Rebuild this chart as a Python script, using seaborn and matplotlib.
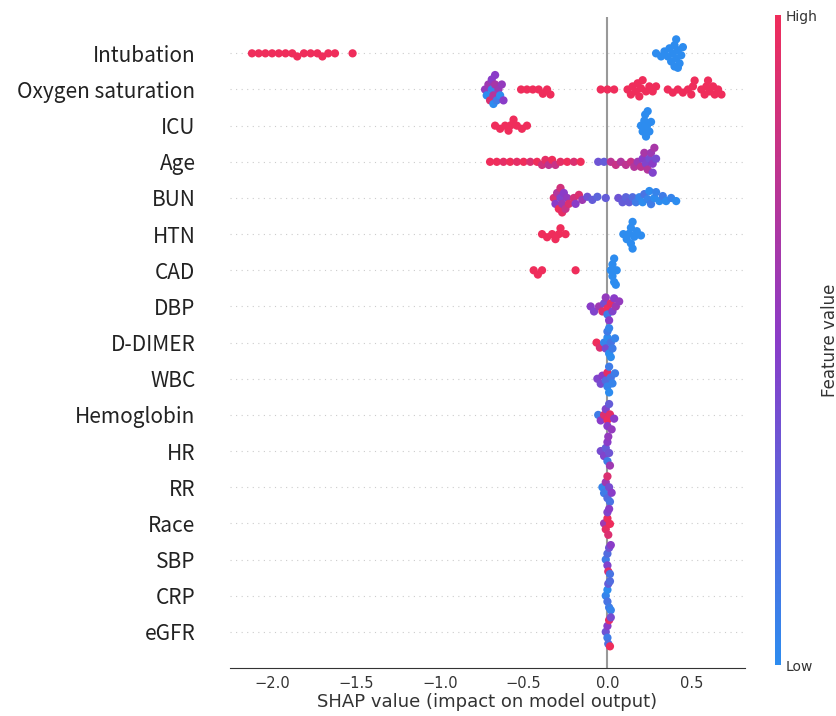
import matplotlib
matplotlib.use("Agg")

import pandas as pd
import matplotlib.pyplot as plt
import seaborn as sns
from matplotlib.colors import LinearSegmentedColormap, Normalize
from matplotlib.cm import ScalarMappable

# feature order, top to bottom
features = ["Intubation", "Oxygen saturation", "ICU", "Age", "BUN", "HTN", "CAD",
            "DBP", "D-DIMER", "WBC", "Hemoglobin", "HR", "RR", "Race", "SBP",
            "CRP", "eGFR"]

# SHAP values (x) and normalised feature values (colour)
intubation_shap = [-2.12, -2.08, -2.04, -2.0, -1.96, -1.92, -1.88, -1.85, -1.81, -1.77,
                   -1.73, -1.70, -1.665, -1.625, -1.52,
                   0.29, 0.32, 0.34, 0.36, 0.37, 0.38, 0.39, 0.40, 0.40, 0.41, 0.41,
                   0.42, 0.42, 0.43, 0.44, 0.45]
intubation_val = [1.0, 1.0, 1.0, 1.0, 1.0, 1.0, 1.0, 1.0, 1.0, 1.0,
                  1.0, 1.0, 1.0, 1.0, 1.0,
                  0.0, 0.0, 0.0, 0.0, 0.0, 0.0, 0.0, 0.0, 0.0, 0.0, 0.0,
                  0.0, 0.0, 0.0, 0.0, 0.0]

oxygen_shap = [-0.73, -0.72, -0.71, -0.70, -0.69, -0.69, -0.68, -0.68, -0.67, -0.67,
               -0.66, -0.65, -0.64, -0.63, -0.62,
               -0.515, -0.48, -0.445, -0.41, -0.385, -0.36, -0.34,
               -0.04, 0.0, 0.04,
               0.12, 0.14, 0.15, 0.17, 0.18, 0.19, 0.20, 0.21, 0.23, 0.25, 0.27, 0.29,
               0.36, 0.39, 0.42, 0.45, 0.48, 0.50, 0.51, 0.52,
               0.56, 0.58, 0.59, 0.60, 0.61, 0.63, 0.64, 0.66, 0.68]
oxygen_val = [0.55, 0.0, 0.6, 0.9, 0.05, 0.5, 0.7, 0.0, 0.65, 0.5, 0.1, 0.6, 0.0, 0.55, 0.5,
              1.0, 1.0, 1.0, 1.0, 1.0, 1.0, 1.0,
              1.0, 1.0, 1.0,
              1.0, 1.0, 1.0, 1.0, 1.0, 1.0, 1.0, 1.0, 1.0, 1.0, 1.0, 1.0,
              1.0, 1.0, 1.0, 1.0, 1.0, 1.0, 1.0, 1.0,
              1.0, 1.0, 1.0, 1.0, 1.0, 1.0, 1.0, 1.0, 1.0]

icu_shap = [-0.67, -0.64, -0.61, -0.59, -0.575, -0.56, -0.54, -0.51, -0.48,
            0.20, 0.21, 0.22, 0.225, 0.23, 0.235, 0.24, 0.25, 0.26]
icu_val = [1.0, 1.0, 1.0, 1.0, 1.0, 1.0, 1.0, 1.0, 1.0,
           0.0, 0.0, 0.0, 0.0, 0.0, 0.0, 0.0, 0.0, 0.0]

age_shap = [-0.70, -0.66, -0.62, -0.58, -0.54, -0.50, -0.46, -0.42, -0.39, -0.37,
            -0.35, -0.33, -0.31, -0.28, -0.24, -0.20, -0.16,
            -0.055, -0.02, 0.02, 0.05, 0.08, 0.11, 0.14, 0.16, 0.18, 0.20, 0.21,
            0.22, 0.23, 0.24, 0.25, 0.26, 0.27, 0.27, 0.28, 0.29]
age_val = [1.0, 1.0, 0.95, 1.0, 0.95, 1.0, 0.9, 1.0, 0.85, 0.95,
           0.75, 1.0, 0.8, 0.95, 1.0, 0.9, 1.0,
           0.35, 0.3, 0.75, 0.8, 0.7, 0.75, 0.8, 0.7, 0.6, 0.75, 0.5,
           0.65, 0.45, 0.7, 0.4, 0.6, 0.5, 0.45, 0.65, 0.4]

bun_shap = [-0.32, -0.31, -0.30, -0.29, -0.28, -0.28, -0.27, -0.27, -0.26, -0.25,
            -0.24, -0.23, -0.20, -0.19, -0.17, -0.15, -0.12, -0.09, -0.06, -0.01,
            0.065, 0.09, 0.11, 0.13, 0.15,
            0.17, 0.19, 0.21, 0.22, 0.24, 0.25, 0.26, 0.28, 0.29, 0.31, 0.33, 0.35, 0.38, 0.41]
bun_val = [0.9, 0.5, 0.7, 1.0, 0.45, 0.85, 0.6, 0.95, 0.5, 0.8,
           0.55, 0.9, 0.85, 0.5, 0.9, 0.6, 0.35, 0.3, 0.25, 0.3,
           0.35, 0.3, 0.25, 0.3, 0.2,
           0.1, 0.05, 0.0, 0.15, 0.05, 0.0, 0.1, 0.0, 0.05, 0.0, 0.1, 0.0, 0.05, 0.0]

htn_shap = [-0.39, -0.36, -0.33, -0.31, -0.29, -0.28, -0.25,
            0.095, 0.115, 0.13, 0.14, 0.14, 0.15, 0.15, 0.16, 0.175, 0.20]
htn_val = [1.0, 1.0, 1.0, 1.0, 1.0, 1.0, 1.0,
           0.0, 0.0, 0.0, 0.0, 0.0, 0.0, 0.0, 0.0, 0.0, 0.0]

cad_shap = [-0.44, -0.415, -0.39, -0.19,
            0.02, 0.03, 0.03, 0.04, 0.04, 0.05, 0.055]
cad_val = [1.0, 1.0, 1.0, 1.0,
           0.0, 0.0, 0.0, 0.0, 0.0, 0.0, 0.0]

dbp_shap = [-0.10, -0.08, -0.05, -0.03, -0.02, -0.01, 0.0, 0.0, 0.01, 0.02, 0.03, 0.04, 0.05, 0.07]
dbp_val = [0.5, 0.45, 0.6, 0.9, 0.4, 0.55, 1.0, 0.1, 0.5, 0.95, 0.45, 0.5, 0.6, 0.55]

ddimer_shap = [-0.065, -0.045, -0.02, -0.01, 0.0, 0.0, 0.01, 0.01, 0.02, 0.02, 0.03, 0.045]
ddimer_val = [1.0, 0.9, 0.05, 0.4, 0.0, 0.1, 0.0, 0.05, 0.15, 0.0, 0.1, 0.05]

wbc_shap = [-0.06, -0.04, -0.03, -0.01, 0.0, 0.0, 0.01, 0.01, 0.02, 0.03, 0.045]
wbc_val = [0.45, 0.4, 0.5, 0.2, 0.95, 0.05, 0.1, 0.0, 0.15, 0.05, 0.1]

hemoglobin_shap = [-0.055, -0.04, -0.02, -0.01, 0.0, 0.0, 0.01, 0.015, 0.025, 0.04]
hemoglobin_val = [0.1, 0.5, 0.9, 0.45, 1.0, 0.5, 0.3, 0.95, 0.55, 0.5]

hr_shap = [-0.04, -0.02, -0.01, 0.0, 0.0, 0.005, 0.01, 0.015]
hr_val = [0.4, 0.45, 0.3, 0.5, 0.1, 0.55, 0.35, 0.6]

rr_shap = [-0.03, -0.02, -0.01, 0.0, 0.0, 0.01, 0.015, 0.025]
rr_val = [0.05, 0.1, 0.6, 0.2, 0.9, 0.4, 0.15, 0.5]

race_shap = [-0.02, -0.01, 0.0, 0.0, 0.005, 0.01, 0.015]
race_val = [0.6, 0.95, 1.0, 0.45, 0.9, 0.5, 1.0]

sbp_shap = [-0.01, 0.0, 0.0, 0.005, 0.01, 0.015, 0.02]
sbp_val = [0.1, 0.45, 0.2, 0.9, 0.35, 0.15, 0.5]

crp_shap = [-0.01, 0.0, 0.0, 0.005, 0.01, 0.015, 0.02]
crp_val = [0.05, 0.15, 0.0, 0.3, 0.1, 0.2, 0.05]

egfr_shap = [-0.01, 0.0, 0.0, 0.005, 0.01, 0.015, 0.02]
egfr_val = [0.35, 0.1, 0.5, 0.2, 0.95, 1.0, 0.4]

series = [
    (intubation_shap, intubation_val), (oxygen_shap, oxygen_val), (icu_shap, icu_val),
    (age_shap, age_val), (bun_shap, bun_val), (htn_shap, htn_val), (cad_shap, cad_val),
    (dbp_shap, dbp_val), (ddimer_shap, ddimer_val), (wbc_shap, wbc_val),
    (hemoglobin_shap, hemoglobin_val), (hr_shap, hr_val), (rr_shap, rr_val),
    (race_shap, race_val), (sbp_shap, sbp_val), (crp_shap, crp_val), (egfr_shap, egfr_val),
]

rows = []
for name, (xs, vs) in zip(features, series):
    for x, v in zip(xs, vs):
        rows.append({"feature": name, "shap": x, "value": v})
df = pd.DataFrame(rows)

# shap-like red/blue colormap
red_blue = LinearSegmentedColormap.from_list("red_blue", ["#2D8CEF", "#8A3CC8", "#EF2D5B"])

sns.set_style("white")
plt.rcParams["font.family"] = ["DejaVu Sans"]

fig = plt.figure(figsize=(8.37, 7.16), dpi=100)
ax = fig.add_axes([0.275, 0.067, 0.615, 0.909])

# grid lines and zero line behind the dots
for i in range(len(features)):
    ax.axhline(i, color="#cccccc", lw=0.8, dashes=(1, 4), zorder=-1)
ax.axvline(0, color="#999999", lw=1.5, zorder=-1)

sns.swarmplot(data=df, x="shap", y="feature", order=features, hue="value",
              palette=red_blue, hue_norm=(0, 1), size=4.2, orient="h",
              legend=False, linewidth=0, warn_thresh=1, ax=ax)

ax.set_xlim(-2.25, 0.82)
ax.set_ylim(len(features), -1)
ax.set_ylabel("")
ax.set_xlabel("SHAP value (impact on model output)", fontsize=13, color="#333333",
              labelpad=1)
for side in ["left", "top", "right"]:
    ax.spines[side].set_visible(False)
ax.spines["bottom"].set_color("#333333")
ax.tick_params(axis="x", labelsize=10.5, colors="#333333", length=4, pad=2)
ax.tick_params(axis="y", length=0, pad=25)
for lbl in ax.get_yticklabels():
    lbl.set_fontfamily(["Noto Sans CJK JP", "DejaVu Sans"])
    lbl.set_fontsize(15)
    lbl.set_color("#222222")

# colour bar
cax = fig.add_axes([0.926, 0.071, 0.0072, 0.908])
sm = ScalarMappable(norm=Normalize(0, 1), cmap=red_blue)
cb = fig.colorbar(sm, cax=cax, ticks=[0, 1])
cb.set_ticklabels(["Low", "High"])
cb.outline.set_visible(False)
cax.tick_params(length=0, labelsize=10, colors="#333333")
cb.set_label("Feature value", size=12, labelpad=2, color="#333333")

# lay the swarm out once, then freeze it and draw slightly larger, overlapping dots
fig.canvas.draw()
for coll in ax.collections:
    if "draw" in coll.__dict__:
        del coll.draw
        coll.set_sizes(coll.get_sizes() * 2.0)

fig.savefig("out.png", dpi=100)
